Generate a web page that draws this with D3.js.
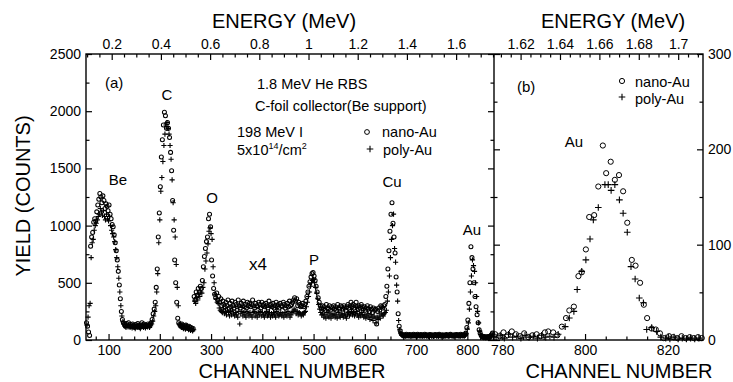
<!DOCTYPE html>
<html><head><meta charset="utf-8">
<script src="https://cdn.jsdelivr.net/npm/d3@7"></script>
<style>
body{margin:0;background:#fff}
text{font-family:"Liberation Sans",Arial,Helvetica,sans-serif;fill:#000}
</style>
</head><body>
<svg id="c" width="733" height="382"></svg>
<script>
// ---------- DATA ----------
// Panel (a): nano-Au at odd channels 57,59,...,849 ; poly-Au at even channels 58,60,...,850
const chA0 = 57, chAStep = 2;
const nanoA = [
150,120,70,40,820,900,940,1030,1060,1040,
1120,1180,1230,1280,1250,1200,1260,1220,1150,1190,
1170,1130,1180,1100,1060,1010,990,920,850,780,
700,600,480,360,250,180,150,135,120,145,
125,150,120,135,115,140,125,110,135,120,
145,125,110,130,150,120,140,115,130,125,
140,120,135,150,180,230,270,330,460,620,
900,1110,1340,1600,1750,1880,1990,1960,1850,1900,
1850,1770,1640,1480,1220,960,700,500,330,190,
150,135,120,140,110,125,105,130,115,100,
120,95,110,90,100,380,350,420,390,450,
420,470,450,520,640,730,800,860,900,1060,
1100,990,700,560,450,400,370,410,350,380,
330,360,300,340,310,290,330,300,350,280,
320,290,340,300,280,330,310,290,350,300,
280,320,300,340,290,310,280,330,300,320,
290,310,350,300,280,320,300,290,330,310,
280,330,300,310,290,320,300,280,340,300,
310,290,320,280,300,330,290,310,280,320,
300,290,330,310,280,300,320,290,340,300,
310,330,350,370,340,360,300,330,310,290,
300,320,290,310,340,380,420,470,510,550,
580,590,560,520,470,420,370,330,300,280,
300,270,290,260,310,280,270,300,260,290,
280,300,270,290,260,310,280,270,300,290,
270,300,280,260,290,310,280,300,330,290,
310,280,300,330,290,270,300,280,310,290,
270,290,260,280,300,270,250,290,270,240,
280,260,270,140,250,280,260,300,290,280,
300,310,380,470,620,780,950,1100,1200,1020,
900,760,550,420,230,120,80,55,45,40,
45,38,50,40,42,48,35,45,40,50,
40,45,38,50,42,40,48,38,45,40,
50,40,45,38,44,48,40,45,38,42,
48,40,45,38,50,42,40,45,38,44,
40,48,42,38,45,50,40,44,38,45,
42,48,40,45,38,50,42,45,40,48,
60,110,175,320,500,815,720,620,500,380,
290,220,150,90,60,40,30,25,30,22,
28,25,30,22,35,45,60
];
const polyA = [
130,200,300,320,720,850,880,960,1000,1020,
1050,1080,1100,1150,1120,1090,1130,1080,1050,1100,
1060,1040,1080,1000,960,930,900,860,790,720,
640,540,420,300,210,160,140,120,110,130,
115,135,110,125,105,130,115,100,125,110,
130,115,100,120,135,110,130,105,120,115,
130,110,125,140,165,210,250,300,420,580,
850,1050,1300,1420,1560,1700,1800,1880,1900,1850,
1800,1700,1580,1400,1200,1050,900,660,460,300,
140,125,110,130,100,115,95,120,105,90,
110,85,100,80,90,340,320,370,350,400,
380,420,410,460,500,620,690,760,840,950,
980,930,880,640,500,400,360,330,320,280,
260,250,240,270,230,250,220,260,240,210,
250,220,260,230,210,240,220,200,250,140,
230,250,210,240,220,200,250,230,210,240,
220,200,240,250,210,230,200,240,220,250,
210,240,220,200,230,250,210,220,240,200,
230,210,240,220,200,250,230,210,220,240,
210,230,200,240,220,210,250,230,200,220,
240,250,270,260,230,250,220,240,230,210,
230,220,240,250,290,330,380,420,470,500,
520,530,500,460,410,360,310,270,240,220,
230,200,220,190,240,210,200,230,190,220,
210,230,200,220,190,240,210,200,230,220,
200,230,210,190,220,240,210,230,250,220,
240,210,230,250,220,200,230,210,240,220,
200,220,190,210,230,200,180,220,200,170,
210,190,150,200,180,210,190,230,220,210,
230,240,260,340,420,560,720,880,1000,1100,
800,680,480,340,170,90,60,45,38,35,
38,32,42,35,36,40,30,38,34,42,
34,38,32,42,36,34,40,32,38,34,
42,34,38,32,36,40,34,38,32,36,
40,34,38,32,42,36,34,38,32,36,
34,40,36,32,38,42,34,36,32,38,
36,40,34,38,32,42,36,38,34,40,
55,95,150,270,420,560,700,650,600,500,
380,250,150,80,50,35,25,20,25,18,
22,20,25,18,30,40,50
];
// Panel (b): Au peak, [channel, counts]
const nanoB = [
[778.3,6],[779.3,4],[780.3,8],[781.3,5],[782.3,9],[783.3,6],[784.3,4],[785.3,7],[786.3,3],[787.3,5],
[788.3,6],[789.3,4],[790.3,8],[791.1,9],[792.3,8],[793.3,5],[794.4,14],[795.4,23],[796.2,31],[797.3,35],
[798.4,67],[799.2,71],[800.2,95],[801.0,129],[802.2,131],[803.2,161],[804.3,204],[805.1,175],[806.2,187],[807.2,168],
[808.2,173],[809.2,156],[810.2,123],[811.3,84],[812.2,78],[813.3,60],[814.2,37],[815.0,23],[816.1,12],[817.1,11],
[818.1,7],[819.0,2],[820.3,4],[821.3,3],[822.3,2],[823.3,4],[824.3,2],[825.3,3],[826.3,2],[827.3,3],[828.2,2]
];
const polyB = [
[778.5,3],[779.5,5],[780.5,2],[781.5,6],[782.5,3],[783.5,4],[784.5,2],[785.5,5],[786.5,3],[787.5,4],
[788.5,2],[789.5,5],[790.5,3],[791.5,4],[792.5,3],[793.5,6],[795.2,14],[796.2,23],[797.3,30],[798.1,53],
[799.2,72],[800.2,84],[801.2,106],[802.0,126],[803.2,139],[804.8,163],[805.6,163],[806.3,157],[807.2,163],[808.3,147],
[809.2,133],[810.2,113],[811.1,77],[812.1,64],[813.1,44],[814.1,39],[814.9,11],[816.1,13],[817.3,9],[818.3,3],
[819.5,2],[820.5,1],[821.5,3],[822.5,1],[823.5,2],[824.5,1],[825.5,2],[826.5,1],[827.5,2]
];
// Tick labels
const chTicksA = [100,200,300,400,500,600,700,800];
const yTicksA = [0,500,1000,1500,2000,2500];
const eTicksA = [0.2,0.4,0.6,0.8,1,1.2,1.4,1.6];
const chTicksB = [780,800,820];
const yTicksB = [0,100,200,300];
const eTicksB = [1.62,1.64,1.66,1.68,1.7];
const peakLabels = [["Be",118,185],["C",167,100],["O",212,203],["P",314,265],["Cu",392,187],["Au",472,235]];

// ---------- LAYOUT ----------
const L=86, M=494, R=703, T=54, B=340;
const svg = d3.select("#c");
const xA = d3.scaleLinear().domain([56,852]).range([L,M]);
const yA = d3.scaleLinear().domain([0,2500]).range([B,T]);
const eA = d3.scaleLinear().domain([0.0955,1.754]).range([L,M]);
const xB = d3.scaleLinear().domain([778,828.5]).range([M,R]);
const yB = d3.scaleLinear().domain([0,300]).range([B,T]);
const eB = d3.scaleLinear().domain([1.6065,1.7126]).range([M,R]);

const fmtE = d => d3.format("~g")(d);
function axis(gen, scale, vals, size, fmt, tx, ty, fs){
  const a = gen(scale).tickValues(vals).tickSizeInner(size).tickSizeOuter(0).tickPadding(5);
  if(fmt===null) a.tickFormat(""); else if(fmt) a.tickFormat(fmt);
  const g = svg.append("g").attr("transform",`translate(${tx},${ty})`).call(a);
  g.select(".domain").remove();
  g.selectAll("line").attr("stroke","#000").attr("stroke-width",1.2);
  g.selectAll("text").attr("font-size",fs||14).attr("font-family","Liberation Sans, Arial, sans-serif").attr("fill","#000");
  return g;
}
const rng=(a,b,s)=>d3.range(a,b+s/2,s);
axis(d3.axisLeft, yA, yTicksA, -6, d=>d, L, 0);
axis(d3.axisLeft, yA, rng(250,2250,500), -3.5, null, L, 0);
axis(d3.axisRight, yA, yTicksA, -6, null, M, 0);
axis(d3.axisRight, yA, rng(250,2250,500), -3.5, null, M, 0);
axis(d3.axisLeft, yB, yTicksB, -6, null, M, 0);
axis(d3.axisLeft, yB, rng(50,250,100), -3.5, null, M, 0);
axis(d3.axisRight, yB, yTicksB, -6, d=>d, R, 0);
axis(d3.axisRight, yB, rng(50,250,100), -3.5, null, R, 0);
axis(d3.axisBottom, xA, chTicksA, -6, d=>d, 0, B);
axis(d3.axisBottom, xA, rng(75,850,25).filter(v=>v%100), -3.5, null, 0, B);
axis(d3.axisBottom, xB, chTicksB, -6, d=>d, 0, B);
axis(d3.axisBottom, xB, rng(780,825,5).filter(v=>v%20), -3.5, null, 0, B);
axis(d3.axisTop, eA, eTicksA, -6, fmtE, 0, T);
axis(d3.axisTop, eA, rng(0.1,1.75,0.05).filter(v=>Math.abs(v/0.2-Math.round(v/0.2))>0.01), -3.5, null, 0, T);
axis(d3.axisTop, eB, eTicksB, -6, fmtE, 0, T);
axis(d3.axisTop, eB, rng(1.61,1.71,0.005).filter(v=>Math.abs(v/0.02-Math.round(v/0.02))>0.01), -3.5, null, 0, T);

svg.append("rect").attr("x",L).attr("y",T).attr("width",R-L).attr("height",B-T)
  .attr("fill","none").attr("stroke","#000").attr("stroke-width",1.4);
svg.append("line").attr("x1",M).attr("x2",M).attr("y1",T).attr("y2",B).attr("stroke","#000").attr("stroke-width",1.4);

// ---------- MARKS ----------
function circles(g, data, x, y, r, sw){
  g.selectAll(null).data(data).join("circle")
   .attr("cx",d=>x(d[0])).attr("cy",d=>y(d[1])).attr("r",r)
   .attr("fill","none").attr("stroke","#000").attr("stroke-width",sw||1);
}
function pluses(g, data, x, y, h, sw){
  g.selectAll(null).data(data).join("path")
   .attr("d",d=>{const cx=x(d[0]), cy=y(d[1]); return `M${cx-h},${cy}H${cx+h}M${cx},${cy-h}V${cy+h}`;})
   .attr("fill","none").attr("stroke","#000").attr("stroke-width",sw||1.1);
}
const dA_n = nanoA.map((v,i)=>[chA0+i*chAStep, v]);
const dA_p = polyA.map((v,i)=>[chA0+i*chAStep+1, v]);
const gA = svg.append("g");
pluses(gA, dA_p, xA, yA, 2.6, 1.1);
circles(gA, dA_n, xA, yA, 2, 1.05);
const gB = svg.append("g");
pluses(gB, polyB, xB, yB, 3.3, 1.1);
circles(gB, nanoB, xB, yB, 2.6, 1);

// ---------- TEXT ----------
function txt(s,x,y,fs,anchor){
  return svg.append("text").attr("x",x).attr("y",y).attr("font-size",fs).attr("text-anchor",anchor||"start").text(s);
}
txt("ENERGY (MeV)",284,28,20,"middle");
txt("ENERGY (MeV)",613,28,20,"middle");
txt("CHANNEL NUMBER",292,378,20,"middle");
txt("CHANNEL NUMBER",619,378,20,"middle");
svg.append("text").attr("transform","translate(30,196) rotate(-90)").attr("text-anchor","middle")
  .attr("font-size",20).text("YIELD (COUNTS)");

txt("(a)",105,88,15);
txt("(b)",517,92,15);
peakLabels.forEach(p=>txt(p[0],p[1],p[2],15,"middle"));
txt("x4",258,270,17,"middle");
txt("Au",574,147,15,"middle");
txt("1.8 MeV He RBS",257,89,14.5);
txt("C-foil collector(Be support)",255,111,14.5);
txt("198 MeV I",237,137,14.5);
const t5 = txt("5x10",237,155,14.5);
t5.append("tspan").attr("font-size",9).attr("dy",-6).text("14");
t5.append("tspan").attr("dy",6).text("/cm");
t5.append("tspan").attr("font-size",9).attr("dy",-6).text("2");
circles(svg.append("g"), [[0,0]], d=>367, d=>132, 2.4);
pluses(svg.append("g"), [[0,0]], d=>370, d=>149, 3.3);
txt("nano-Au",382,137,14.5);
txt("poly-Au",383,155,14.5);
circles(svg.append("g"), [[0,0]], d=>622, d=>81, 2.6);
pluses(svg.append("g"), [[0,0]], d=>622, d=>97, 3.3);
txt("nano-Au",635,87,14.5);
txt("poly-Au",635,104,14.5);
</script>
</body></html>
